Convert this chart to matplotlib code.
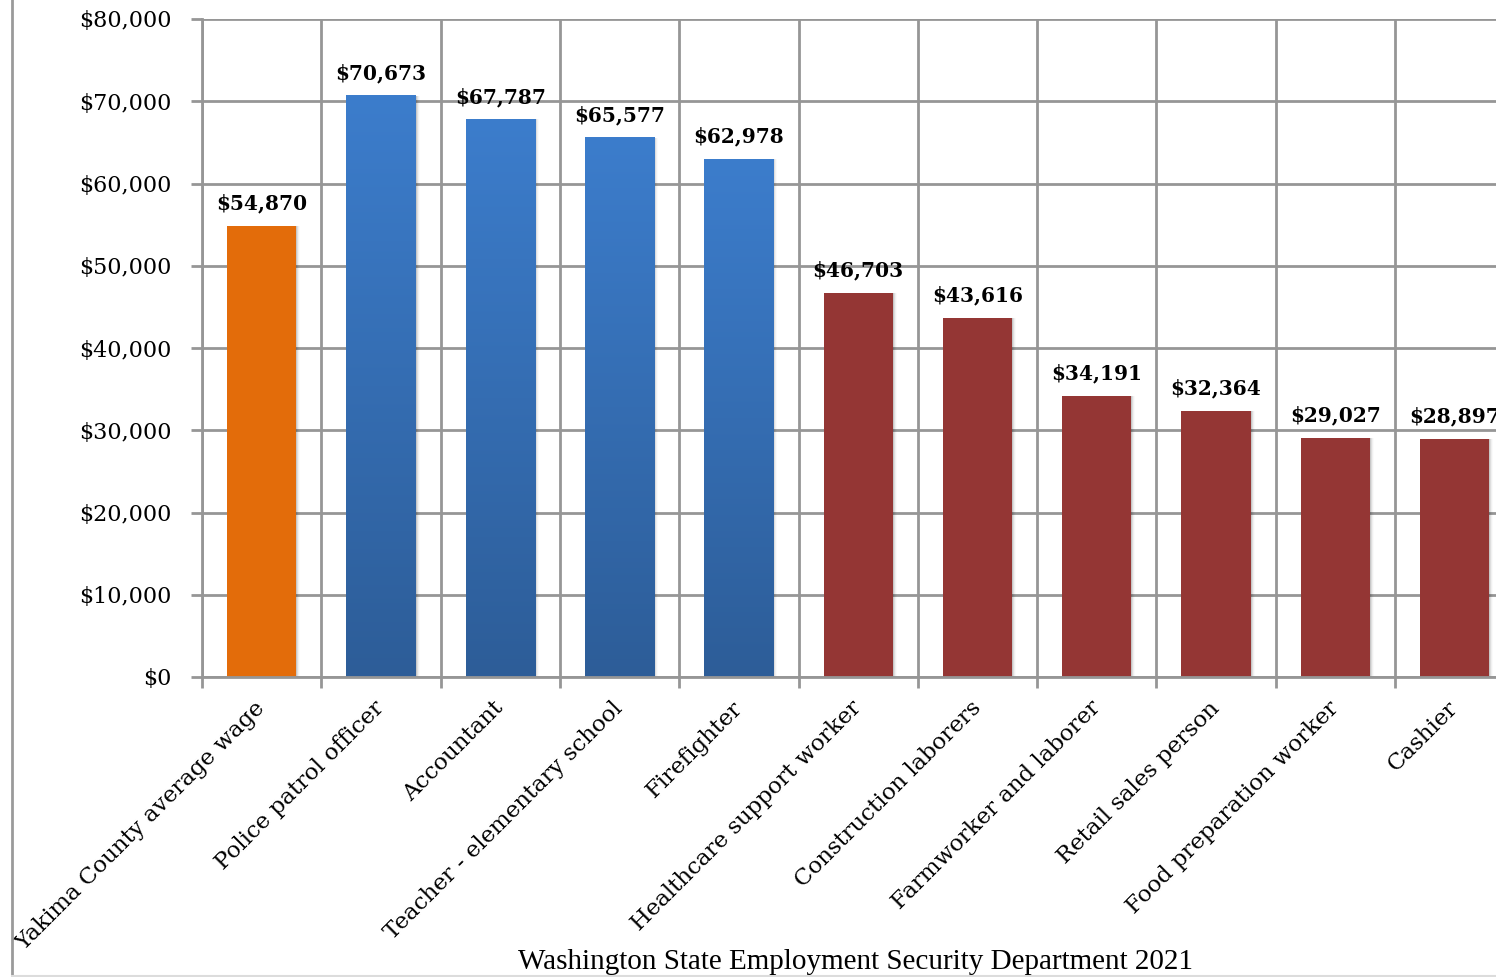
import numpy as np
import matplotlib
matplotlib.use("Agg")
import matplotlib.pyplot as plt
from matplotlib.lines import Line2D
from matplotlib.patches import Rectangle
from matplotlib.colors import LinearSegmentedColormap
from matplotlib.ticker import FuncFormatter

# Annual wages by occupation, Yakima County
categories = [
    "Yakima County average wage",
    "Police patrol officer",
    "Accountant",
    "Teacher - elementary school",
    "Firefighter",
    "Healthcare support worker",
    "Construction laborers",
    "Farmworker and laborer",
    "Retail sales person",
    "Food preparation worker",
    "Cashier",
]
wages = [54870, 70673, 67787, 65577, 62978, 46703, 43616, 34191, 32364, 29027, 28897]
groups = ["avg", "high", "high", "high", "high",
          "low", "low", "low", "low", "low", "low"]
source_note = "Washington State Employment Security Department 2021"

ORANGE = "#E36C0A"
RED = "#943634"
BLUE_TOP = "#3C7DCC"
BLUE_BOTTOM = "#2D5D98"
GRID = "#969696"

W, H = 1496, 977
fig = plt.figure(figsize=(W / 100, H / 100), dpi=100)
ax = fig.add_axes([202 / W, 1 - 677 / H, 1312.3 / W, (677 - 19) / H])

x = np.arange(len(categories))
bar_w = 0.58
colors = [ORANGE if g == "avg" else (RED if g == "low" else "none") for g in groups]
bars = ax.bar(x, wages, width=bar_w, color=colors, zorder=3, linewidth=0)

# soft drop shadow on the right of each bar
px = 1.0 / 119.3
for xi, v in zip(x, wages):
    for k, a in ((1, 0.10), (2, 0.07), (3, 0.04), (4, 0.02)):
        ax.add_patch(Rectangle((xi - bar_w / 2 + k * px, 0), bar_w, v,
                               facecolor=(0, 0, 0, a), edgecolor="none", zorder=2))

# vertical gradient fill for the blue group
blue_cmap = LinearSegmentedColormap.from_list("blue_grad", [BLUE_BOTTOM, BLUE_TOP])
grad = np.linspace(0, 1, 256).reshape(-1, 1)
for b, g in zip(bars, groups):
    if g == "high":
        x0 = b.get_x()
        ax.imshow(grad, cmap=blue_cmap, origin="lower", aspect="auto",
                  extent=[x0, x0 + b.get_width(), 0, b.get_height()], zorder=3.5,
                  interpolation="bilinear")

# value labels
for xi, v in zip(x, wages):
    ax.annotate(f"${v:,.0f}", (xi, v), xytext=(0, 9), textcoords="offset points",
                ha="center", va="bottom", fontsize=14.5, fontweight="bold",
                family="DejaVu Serif", color="black", annotation_clip=False, zorder=5)

ax.set_xlim(-0.5, len(categories) - 0.5)
ax.set_ylim(0, 80000)
ax.set_yticks(np.arange(0, 80001, 10000))
ax.yaxis.set_major_formatter(FuncFormatter(lambda v, p: f"${v:,.0f}"))

ax.set_xticks(x)
ax.set_xticklabels(categories, rotation=45, ha="right", va="center",
                   rotation_mode="anchor", fontsize=16.5, family="DejaVu Serif")
ax.set_xticks(np.arange(-0.5, len(categories)), minor=True)

ax.tick_params(axis="x", which="major", length=0, pad=20)
ax.tick_params(axis="x", which="minor", length=8, width=2, color=GRID, direction="out")
ax.tick_params(axis="y", which="major", length=8, width=2, color=GRID, direction="out",
               pad=14, labelsize=16)
for t in ax.get_yticklabels():
    t.set_family("DejaVu Serif")

ax.grid(True, axis="y", which="major", color=GRID, linewidth=2)
ax.grid(True, axis="x", which="minor", color=GRID, linewidth=2)
ax.set_axisbelow(True)

for side in ("top", "right"):
    ax.spines[side].set_visible(False)
for side in ("left", "bottom"):
    ax.spines[side].set_color(GRID)
    ax.spines[side].set_linewidth(2)
    ax.spines[side].set_zorder(4)

# frame edges of the chart area
fig.add_artist(Line2D([12 / W, 12 / W], [1 - 976 / H, 1], color="#9a9a9a", linewidth=2))
fig.add_artist(Line2D([12 / W, 1], [1 - 976 / H, 1 - 976 / H], color="#dcdcdc", linewidth=1.5))

fig.text(856 / W, 1 - 962 / H, source_note, ha="center", va="center",
         fontsize=21, family="Liberation Serif", color="black")

fig.savefig("out.png", dpi=100)
